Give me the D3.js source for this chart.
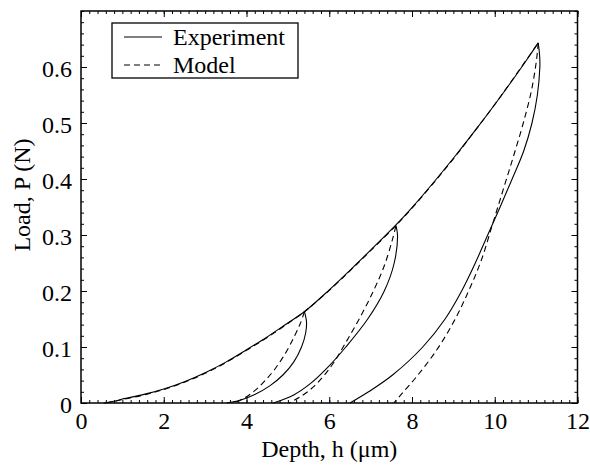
<!DOCTYPE html>
<html>
<head>
<meta charset="utf-8">
<script src="https://cdn.jsdelivr.net/npm/d3@7/dist/d3.min.js"></script>
<style>
    body { margin: 0; background: #fff; }
    text { font-family: 'Liberation Serif', 'Times New Roman', serif; fill: #000; }
</style>
</head>
<body>
<svg id="chart" width="590" height="466"></svg>
<script>
// depth h (um), load P (N)
const expLoading = [[0.55, 0], [0.8, 0.003], [1.0, 0.007], [1.5, 0.015], [2.0, 0.025], [2.5, 0.038],
    [3.0, 0.054], [3.5, 0.073], [4.0, 0.095], [4.5, 0.118], [5.0, 0.143], [5.4, 0.163], [6.0, 0.202],
    [6.5, 0.237], [7.0, 0.273], [7.6, 0.317], [8.0, 0.349], [8.5, 0.392], [9.0, 0.437], [9.5, 0.484],
    [10.0, 0.533], [10.5, 0.584], [10.85, 0.621], [11.05, 0.643]]
const expUnload1 = [[5.4, 0.163], [5.45, 0.145], [5.43, 0.125], [5.33, 0.1], [5.14, 0.073], [4.88, 0.05],
    [4.57, 0.031], [4.2, 0.015], [3.85, 0.005], [3.52, 0]]
const expUnload2 = [[7.61, 0.317], [7.65, 0.3], [7.57, 0.25], [7.33, 0.2], [6.93, 0.15], [6.4, 0.1],
    [5.98, 0.065], [5.55, 0.035], [5.13, 0.014], [4.65, 0]]
const expUnload3 = [[11.05, 0.643], [11.085, 0.62], [11.09, 0.6], [11.03, 0.55], [10.9, 0.5], [10.7, 0.45],
    [10.42, 0.4], [10.13, 0.35], [9.83, 0.3], [9.53, 0.25], [9.2, 0.2], [8.8, 0.15], [8.26, 0.1],
    [7.53, 0.05], [6.95, 0.02], [6.5, 0]]

const modelLoading = [[0.6, 0], [1.0, 0.006], [1.5, 0.014], [2.0, 0.024], [2.5, 0.037], [3.0, 0.053],
    [3.5, 0.072], [4.0, 0.094], [4.5, 0.117], [5.0, 0.142], [5.4, 0.163], [6.0, 0.201], [6.5, 0.236],
    [7.0, 0.272], [7.6, 0.316], [8.0, 0.348], [8.5, 0.391], [9.0, 0.436], [9.5, 0.484], [10.0, 0.533],
    [10.5, 0.585], [11.05, 0.643]]
const modelUnload1 = [[5.4, 0.163], [5.3, 0.142], [5.15, 0.118], [4.95, 0.09], [4.7, 0.062], [4.45, 0.04],
    [4.2, 0.022], [3.95, 0.009], [3.7, 0]]
const modelUnload2 = [[7.61, 0.316], [7.52, 0.29], [7.33, 0.245], [7.08, 0.202], [6.76, 0.155], [6.4, 0.108],
    [6.05, 0.066], [5.65, 0.031], [5.3, 0.011], [5.02, 0]]
const modelUnload3 = [[11.05, 0.643], [11.01, 0.613], [10.89, 0.559], [10.69, 0.5], [10.45, 0.44],
    [10.2, 0.38], [9.95, 0.32], [9.68, 0.256], [9.38, 0.202], [9.03, 0.148], [8.6, 0.095], [8.11, 0.047],
    [7.76, 0.017], [7.56, 0]]

const xTicks = [0, 2, 4, 6, 8, 10, 12]
const yTicks = [0, 0.1, 0.2, 0.3, 0.4, 0.5, 0.6]
const legendLabels = ['Experiment', 'Model']

const fontSize = 24
const margin = { left: 81, right: 12.5, top: 11, bottom: 63 }
const width = 590 - margin.left - margin.right
const height = 466 - margin.top - margin.bottom

const svg = d3.select('#chart')
const g = svg.append('g').attr('transform', `translate(${margin.left}, ${margin.top})`)

const x = d3.scaleLinear().domain([0, 12]).range([0, width])
const y = d3.scaleLinear().domain([0, 0.7]).range([height, 0])

const xMinor = d3.range(0, 12.001, 0.2)
const yMinor = d3.range(0, 0.7001, 0.02)

function styleAxis (sel) {
    sel.select('.domain').remove()
    sel.selectAll('line').attr('stroke', '#000').attr('stroke-width', 1)
    sel.selectAll('text').attr('font-size', fontSize)
}

// major ticks, pointing inward on all four sides
g.append('g').attr('transform', `translate(0, ${height})`)
    .call(d3.axisBottom(x).tickValues(xTicks).tickSize(-6).tickPadding(9).tickFormat(d3.format('d')))
    .call(styleAxis)
    .selectAll('text').attr('dy', '0.72em')
g.append('g')
    .call(d3.axisTop(x).tickValues(xTicks).tickSize(-6).tickFormat(''))
    .call(styleAxis)
g.append('g')
    .call(d3.axisLeft(y).tickValues(yTicks).tickSize(-6).tickPadding(9).tickFormat(d => d === 0 ? '0' : d3.format('.1f')(d)))
    .call(styleAxis)
    .selectAll('text').attr('dy', '0.38em')
g.append('g').attr('transform', `translate(${width}, 0)`)
    .call(d3.axisRight(y).tickValues(yTicks).tickSize(-6).tickFormat(''))
    .call(styleAxis)

// minor ticks
g.append('g').attr('transform', `translate(0, ${height})`)
    .call(d3.axisBottom(x).tickValues(xMinor).tickSize(-3).tickFormat(''))
    .call(styleAxis)
g.append('g')
    .call(d3.axisTop(x).tickValues(xMinor).tickSize(-3).tickFormat(''))
    .call(styleAxis)
g.append('g')
    .call(d3.axisLeft(y).tickValues(yMinor).tickSize(-3).tickFormat(''))
    .call(styleAxis)
g.append('g').attr('transform', `translate(${width}, 0)`)
    .call(d3.axisRight(y).tickValues(yMinor).tickSize(-3).tickFormat(''))
    .call(styleAxis)

const line = d3.line()
    .x(d => x(d[0]))
    .y(d => y(d[1]))
    .curve(d3.curveCatmullRom.alpha(0.5))

const plot = g.append('g')

plot.selectAll('path.exp')
    .data([expLoading, expUnload1, expUnload2, expUnload3])
    .join('path')
    .attr('class', 'exp')
    .attr('d', line)
    .attr('fill', 'none')
    .attr('stroke', '#000')
    .attr('stroke-width', 1.1)

plot.selectAll('path.model')
    .data([modelLoading, modelUnload1, modelUnload2, modelUnload3])
    .join('path')
    .attr('class', 'model')
    .attr('d', line)
    .attr('fill', 'none')
    .attr('stroke', '#000')
    .attr('stroke-width', 1.1)
    .attr('stroke-dasharray', '6,4')

// frame
g.append('rect')
    .attr('width', width)
    .attr('height', height)
    .attr('fill', 'none')
    .attr('stroke', '#000')
    .attr('stroke-width', 1.5)

// axis titles
g.append('text')
    .attr('x', width / 2)
    .attr('y', height + 54)
    .attr('text-anchor', 'middle')
    .attr('font-size', fontSize)
    .text('Depth, h (μm)')

svg.append('text')
    .attr('transform', 'translate(30, 195) rotate(-90)')
    .attr('text-anchor', 'middle')
    .attr('font-size', fontSize)
    .text('Load, P (N)')

// legend
const legend = svg.append('g').attr('transform', 'translate(112, 23)')
legend.append('rect')
    .attr('width', 186)
    .attr('height', 55)
    .attr('fill', '#fff')
    .attr('stroke', '#000')
    .attr('stroke-width', 1.3)

const items = legend.selectAll('g.item')
    .data(legendLabels)
    .join('g')
    .attr('class', 'item')
    .attr('transform', (d, i) => `translate(0, ${14 + i * 28})`)

items.append('line')
    .attr('x1', 12)
    .attr('x2', 50)
    .attr('stroke', '#000')
    .attr('stroke-width', 1.1)
    .attr('stroke-dasharray', (d, i) => i === 1 ? '6,4' : null)

items.append('text')
    .attr('x', 61)
    .attr('y', 8)
    .attr('font-size', fontSize)
    .text(d => d)
</script>
</body>
</html>
